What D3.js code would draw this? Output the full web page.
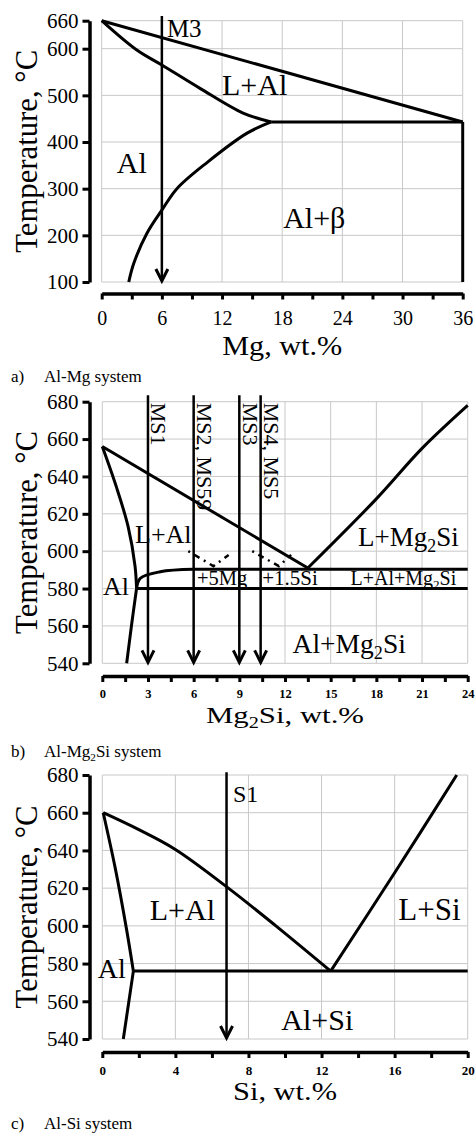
<!DOCTYPE html>
<meta charset="utf-8">
<style>
body { margin: 0; background: #fff; }
svg { display: block; font-family: "Liberation Serif", "Times New Roman", serif; }
.grid line { stroke: #c8c8c8; stroke-width: 1; }
.axis path { stroke: #000; stroke-width: 3.5; }
.axis line { stroke: #000; stroke-width: 3; }
.phase { fill: none; stroke: #000; stroke-width: 3; stroke-linejoin: round; }
.dash { fill: none; stroke: #000; stroke-width: 2.5; stroke-dasharray: 2,5,6,5; }
.arrow { fill: none; stroke: #000; stroke-width: 2.5; }
.head { fill: none; stroke: #000; stroke-width: 3; }
text { fill: #000; }
</style>
<body>
<svg width="476" height="1137"></svg>

<script src="https://d3js.org/d3.v7.min.js"></script>
<script>

// ---- a) Al-Mg ----
var mgTicksY = [100, 200, 300, 400, 500, 600, 660];
var mgTicksX = [0, 6, 12, 18, 24, 30, 36];
var mgLiquidus = [[0, 660], [36, 443]];
var mgSolidus = [[0, 660], [3.5, 597], [6, 565], [9.8, 515], [14.1, 462], [16.9, 443]];
var mgSolvus = [[2.7, 100], [3.2, 140], [4.5, 204], [6, 254], [7.5, 300], [10.5, 356], [14.5, 419], [16.9, 443]];
var mgEutectic = [[16.9, 443], [36, 443]];
var mgBeta = [[36, 443], [36, 100]];
var mgAlloys = [6];
var mgAlloyNames = ["M3"];

// ---- b) Al-Mg2Si ----
var msTicksY = [540, 560, 580, 600, 620, 640, 660, 680];
var msTicksX = [0, 3, 6, 9, 12, 15, 18, 21, 24];
var msLiqAl = [[0, 656], [13.5, 591]];
var msLiqMg2Si = [[13.5, 591], [18, 628], [21, 655], [24, 678]];
var msSolidus = [[0, 656], [0.94, 634], [1.7, 613], [2.15, 592], [2.25, 580]];
var msSolvus = [[2.25, 580], [1.93, 561], [1.6, 540]];
var msTernary = [[2.25, 580], [2.5, 585.5], [3.8, 589], [6, 590.3]];
var msTernaryLine = [[6, 590.3], [24, 590.3]];
var msEutectic = [[2.25, 580], [24, 580]];
var msShiftMg = [[5.65, 600], [7.3, 592], [8.3, 598]];
var msShiftSi = [[9.85, 600], [11.6, 592], [12.4, 598]];
var msAlloys = [3, 6, 9, 10.4];
var msAlloyNames = ["MS1", "MS2, MS59", "MS3", "MS4, MS5"];

// ---- c) Al-Si ----
var siTicksY = [540, 560, 580, 600, 620, 640, 660, 680];
var siTicksX = [0, 4, 8, 12, 16, 20];
var siLiqAl = [[0.05, 660], [2, 651], [4, 640.5], [6.9, 620], [9.5, 600], [12.5, 576]];
var siLiqSi = [[12.5, 576], [16.1, 629.6], [19.4, 680]];
var siSolidus = [[0.05, 660], [0.7, 631], [1.33, 598], [1.7, 576]];
var siSolvus = [[1.7, 576], [1.15, 540]];
var siEutectic = [[1.7, 576], [20, 576]];
var siAlloys = [6.8];
var siAlloyNames = ["S1"];

var svg = d3.select("svg");
var serif = '"Liberation Serif", "Times New Roman", serif';

// text with "_2" style subscripts
function label(g, px, py, str, size, anchor, len) {
  var t = g.append("text").attr("x", px).attr("y", py)
    .style("font-size", size + "px")
    .attr("text-anchor", anchor || "start");
  if (len) t.attr("textLength", len).attr("lengthAdjust", "spacingAndGlyphs");
  var parts = str.split("_");
  t.append("tspan").text(parts[0]);
  for (var i = 1; i < parts.length; i++) {
    var sub = parts[i].charAt(0), rest = parts[i].slice(1);
    t.append("tspan").attr("dy", size * 0.22).style("font-size", (size * 0.66) + "px").text(sub);
    t.append("tspan").attr("dy", -size * 0.22).text(rest);
  }
  return t;
}

function panel(p) {
  var x = d3.scaleLinear().domain(p.xDomain).range(p.xRange);
  var y = d3.scaleLinear().domain(p.yDomain).range(p.yRange);
  var g = svg.append("g");

  // grid
  var grid = g.append("g").attr("class", "grid");
  grid.selectAll(".gv").data(p.xGrid).enter().append("line")
    .attr("x1", d => x(d)).attr("x2", d => x(d))
    .attr("y1", y.range()[0]).attr("y2", y.range()[1]);
  grid.selectAll(".gh").data(p.yGrid).enter().append("line")
    .attr("y1", d => y(d)).attr("y2", d => y(d))
    .attr("x1", x.range()[0]).attr("x2", x.range()[1]);

  // y axis, detached to the left
  g.append("g").attr("class", "axis")
    .attr("transform", "translate(89.5,0)")
    .call(d3.axisLeft(y).tickValues(p.yGrid).tickSize(7).tickSizeOuter(0).tickPadding(4))
    .attr("font-family", serif)
    .selectAll("text").style("font-family", serif).style("font-size", "21px");

  // x axis, detached below, minor ticks unlabelled
  var step = p.xGrid[1] / 2;
  var xt = d3.range(0, p.xDomain[1] + step / 2, step);
  g.append("g").attr("class", "axis")
    .attr("transform", "translate(0," + p.xAxisY + ")")
    .call(d3.axisBottom(x).tickValues(xt).tickSize(6).tickSizeOuter(0).tickPadding(p.xPad)
      .tickFormat(d => (Math.abs(d / (2 * step) - Math.round(d / (2 * step))) < 1e-6 ? d : "")))
    .attr("font-family", serif)
    .selectAll("text").style("font-family", serif)
    .style("font-size", p.xFont + "px").style("font-weight", p.xBold ? "bold" : "normal");

  // phase boundaries
  var line = d3.line().x(d => x(d[0])).y(d => y(d[1]));
  p.lines.forEach(function (l) {
    g.append("path").attr("class", l.dash ? "dash" : "phase")
      .attr("d", line.curve(l.smooth ? d3.curveCatmullRom.alpha(0.5) : d3.curveLinear)(l.data));
  });

  // alloy arrows
  p.alloys.forEach(function (a) {
    var top = y(p.arrowTop), bot = y(p.yDomain[0]);
    g.append("line").attr("class", "arrow")
      .attr("x1", x(a)).attr("x2", x(a)).attr("y1", top).attr("y2", bot - 2);
    g.append("path").attr("class", "head")
      .attr("d", "M" + (x(a) - 6) + "," + (bot - 13) + "L" + x(a) + "," + (bot - 1) + "L" + (x(a) + 6) + "," + (bot - 13));
  });

  // axis titles
  svg.append("text")
    .attr("transform", "translate(37," + ((y.range()[0] + y.range()[1]) / 2) + ") rotate(-90)")
    .attr("text-anchor", "middle")
    .attr("textLength", 203).attr("lengthAdjust", "spacingAndGlyphs")
    .style("font-size", "32px")
    .text("Temperature, \u00B0C");
  label(svg, (x.range()[0] + x.range()[1]) / 2, p.titleY, p.title, p.titleSize, "middle", p.titleLen);

  // caption
  svg.append("text").attr("x", 11).attr("y", p.capY).style("font-size", "17px").text(p.capLetter);
  label(svg, 44, p.capY, p.caption, 17);

  return {g: g, x: x, y: y};
}

// ---------- panel a ----------
var a = panel({
  xDomain: [0, 36], xRange: [101.7, 462.7],
  yDomain: [100, 660], yRange: [282, 20.7],
  xGrid: mgTicksX, yGrid: mgTicksY,
  xAxisY: 293.5, xPad: 11, xFont: 20, xBold: false,
  lines: [
    {data: mgLiquidus}, {data: mgSolidus, smooth: true}, {data: mgSolvus, smooth: true},
    {data: mgEutectic}, {data: mgBeta}
  ],
  alloys: mgAlloys, arrowTop: 670,
  title: "Mg, wt.%", titleY: 355, titleSize: 28, titleLen: 120,
  capLetter: "a)", caption: "Al-Mg system", capY: 382
});
label(a.g, a.x(6.5), a.y(625), mgAlloyNames[0], 25);
label(a.g, a.x(12.0), a.y(500), "L+Al", 30);
label(a.g, a.x(1.5), a.y(334), "Al", 30);
label(a.g, a.x(18.1), a.y(216), "Al+\u03B2", 30);

// ---------- panel b ----------
var b = panel({
  xDomain: [0, 24], xRange: [102.3, 467.7],
  yDomain: [540, 680], yRange: [663.3, 401.7],
  xGrid: msTicksX, yGrid: msTicksY,
  xAxisY: 676, xPad: 7, xFont: 12.5, xBold: true,
  lines: [
    {data: msLiqAl}, {data: msLiqMg2Si, smooth: true},
    {data: msSolidus, smooth: true}, {data: msSolvus, smooth: true},
    {data: msTernary, smooth: true}, {data: msTernaryLine}, {data: msEutectic},
    {data: msShiftMg, dash: true}, {data: msShiftSi, dash: true}
  ],
  alloys: msAlloys, arrowTop: 683.5,
  title: "Mg_2Si, wt.%", titleY: 723, titleSize: 24, titleLen: 158,
  capLetter: "b)", caption: "Al-Mg_2Si system", capY: 757
});
msAlloys.forEach(function (m, i) {
  b.g.append("text")
    .attr("transform", "translate(" + (b.x(m) + 3.5) + "," + (b.y(680) + 1) + ") rotate(90)")
    .style("font-size", "22px")
    .text(msAlloyNames[i]);
});
label(b.g, b.x(2.15), b.y(604.4), "L+Al", 26);
label(b.g, b.x(16.8), b.y(603), "L+Mg_2Si", 27);
label(b.g, b.x(6.22), b.y(582), "+5Mg", 20.5);
label(b.g, b.x(10.5), b.y(582), "+1.5Si", 21);
label(b.g, b.x(16.3), b.y(582), "L+Al+Mg_2Si", 20);
label(b.g, b.x(0.05), b.y(576.6), "Al", 26);
label(b.g, b.x(12.5), b.y(545.5), "Al+Mg_2Si", 27.5);

// ---------- panel c ----------
var c = panel({
  xDomain: [0, 20], xRange: [102.3, 467.7],
  yDomain: [540, 680], yRange: [1039, 775],
  xGrid: siTicksX, yGrid: siTicksY,
  xAxisY: 1052, xPad: 8, xFont: 13, xBold: true,
  lines: [
    {data: siLiqAl, smooth: true}, {data: siLiqSi, smooth: true},
    {data: siSolidus, smooth: true}, {data: siSolvus}, {data: siEutectic}
  ],
  alloys: siAlloys, arrowTop: 681.5,
  title: "Si, wt.%", titleY: 1100, titleSize: 25, titleLen: 104,
  capLetter: "c)", caption: "Al-Si system", capY: 1129
});
label(c.g, c.x(7.15), c.y(665.8), siAlloyNames[0], 24);
label(c.g, c.x(2.6), c.y(603), "L+Al", 30);
label(c.g, c.x(16.2), c.y(603), "L+Si", 31);
label(c.g, c.x(-0.25), c.y(572.4), "Al", 28);
label(c.g, c.x(9.8), c.y(544.8), "Al+Si", 30);

</script>
</body>
</html>
